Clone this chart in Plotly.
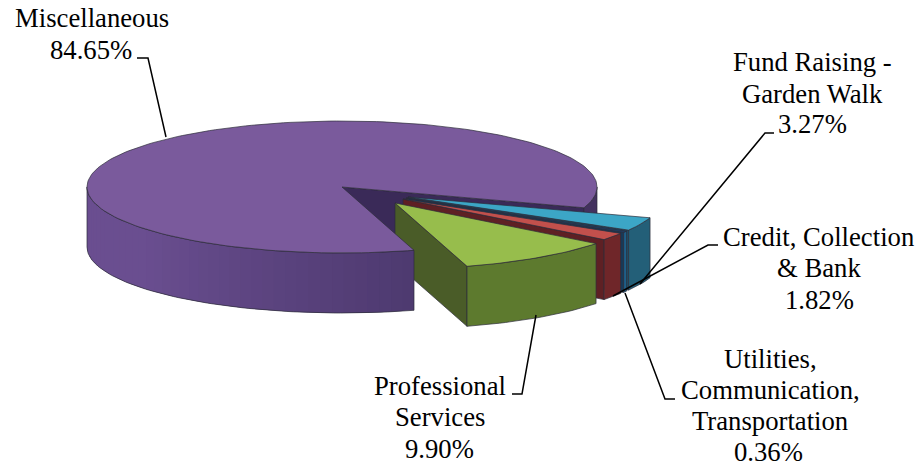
import math
import plotly.graph_objects as go

# Data
categories = ["Miscellaneous", "Fund Raising - Garden Walk", "Utilities, Communication, Transportation",
              "Credit, Collection & Bank", "Professional Services"]
shares = [84.65, 3.27, 0.36, 1.82, 9.90]
share_labels = ["84.65%", "3.27%", "0.36%", "1.82%", "9.90%"]

W, H = 922, 466
CX, CY, RX, RY, DEPTH = 342.0, 187.0, 255.0, 66.0, 60.0
START = 163.6  # degrees clockwise from the back of the pie, where Miscellaneous begins

OFFSETS = [(0, 0), (66, 10), (64, 11), (61, 12), (53, 16)]
TOPS = ["#7a5a9c", "#3ca6c6", "#1d3f66", "#c2504c", "#97bd4c"]
RADIAL = ["#3a2a58", "#1f4f66", "#173a58", "#5e2024", "#4a5c28"]
OUTER = ["#6a4e90", "#235f78", "#1f5f88", "#6f2629", "#5d7a2e"]
EDGE = "#2c2c3a"

spans = [s / sum(shares) * 360 for s in shares]
extents = []
a = START
for s in spans:
    extents.append((a, a + s))
    a += s


def pt(theta, off=(0, 0), drop=0.0):
    t = math.radians(theta)
    return (CX + off[0] + RX * math.sin(t), CY + off[1] - RY * math.cos(t) + drop)


def arc(t0, t1, off=(0, 0), drop=0.0):
    n = max(2, int(abs(t1 - t0) / 1.5) + 1)
    return [pt(t0 + (t1 - t0) * i / (n - 1), off, drop) for i in range(n)]


fig = go.Figure()


def poly(points, fill, edge=EDGE, width=0.7):
    xs = [p[0] for p in points] + [points[0][0]]
    ys = [p[1] for p in points] + [points[0][1]]
    fig.add_trace(go.Scatter(x=xs, y=ys, mode="lines", fill="toself", fillcolor=fill,
                             line=dict(color=edge, width=width), hoverinfo="skip", showlegend=False))


def apex(off=(0, 0), drop=0.0):
    return (CX + off[0], CY + off[1] + drop)


def side(t0, t1, off, fill, edge=EDGE, width=0.7):
    poly(arc(t0, t1, off) + arc(t1, t0, off, DEPTH), fill, edge, width)


def radial_wall(theta, off, fill):
    poly([apex(off), pt(theta, off), pt(theta, off, DEPTH), apex(off, DEPTH)], fill)


def mix(c1, c2, f):
    a1 = [int(c1[i:i + 2], 16) for i in (1, 3, 5)]
    a2 = [int(c2[i:i + 2], 16) for i in (1, 3, 5)]
    return "#%02x%02x%02x" % tuple(round(u + (v - u) * f) for u, v in zip(a1, a2))


main_t0, main_t1 = extents[0]
radial_wall(main_t1, OFFSETS[0], RADIAL[0])
side(main_t1 - 360, 90, OFFSETS[0], "#43315f")

for i in (1, 2, 3, 4):
    t0, t1 = extents[i]
    t0 -= 360
    t1 -= 360
    off = OFFSETS[i]
    radial_wall(t1, off, RADIAL[i])
    side(t0, t1, off, OUTER[i])
    poly([apex(off)] + arc(t0, t1, off), TOPS[i])

# main slice front: shaded outer wall, overlapping strips so no seams show
steps = 40
for k in range(steps):
    a0 = main_t0 + (270 - main_t0) * k / steps
    a1 = main_t0 + (270 - main_t0) * min(steps, k + 2) / steps
    f = min(1.0, (k / steps) / 0.62)
    side(a0, a1, OFFSETS[0], mix("#4e3a70", OUTER[0], f), edge="rgba(0,0,0,0)", width=0)
poly(arc(main_t0, 270) + arc(270, main_t0, OFFSETS[0], DEPTH), "rgba(0,0,0,0)")
poly([apex()] + arc(main_t0, main_t1), TOPS[0])

leaders = [
    [(137, 58), (148, 58), (166, 137)],
    [(774, 133), (765, 133), (640, 284)],
    [(718, 245), (708, 245), (613, 296)],
    [(675, 399), (665, 399), (625, 293)],
    [(512, 394), (522, 394), (536, 315)],
]
for seg in leaders:
    fig.add_trace(go.Scatter(x=[p[0] for p in seg], y=[p[1] for p in seg], mode="lines",
                             line=dict(color="#000000", width=1.5), hoverinfo="skip", showlegend=False))

label_lines = [
    ("Miscellaneous", 92, 18), (share_labels[0], 90.5, 50),
    ("Fund Raising -", 812, 62), ("Garden Walk", 812, 94), (share_labels[1], 812, 124),
    ("Credit, Collection", 818.5, 237), ("& Bank", 819, 268), (share_labels[3], 819, 300),
    ("Utilities,", 770, 359), ("Communication,", 770, 390), ("Transportation", 770, 421), (share_labels[2], 768, 452),
    ("Professional", 439.5, 386), ("Services", 440, 417), (share_labels[4], 439, 449),
]
for text, x, y in label_lines:
    fig.add_annotation(x=x, y=y, text=text, showarrow=False, xanchor="center", yanchor="middle",
                       font=dict(family="Liberation Serif", size=26.7, color="#000000"))

fig.update_layout(
    width=W, height=H, margin=dict(l=0, r=0, t=0, b=0),
    paper_bgcolor="white", plot_bgcolor="white", showlegend=False,
    xaxis=dict(range=[0, W], visible=False, fixedrange=True),
    yaxis=dict(range=[H, 0], visible=False, fixedrange=True),
)
fig.write_html("out.html", config={"displayModeBar": False},
               post_script="document.body.style.margin='0';document.documentElement.style.overflow='hidden';")
